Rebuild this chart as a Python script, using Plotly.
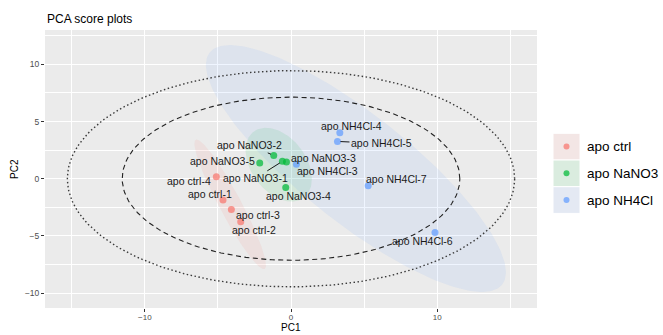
import numpy as np
import plotly.graph_objects as go

# ---------------- data ----------------
samples = ["apo ctrl-1", "apo ctrl-2", "apo ctrl-3", "apo ctrl-4",
           "apo NaNO3-1", "apo NaNO3-2", "apo NaNO3-3", "apo NaNO3-4", "apo NaNO3-5",
           "apo NH4Cl-3", "apo NH4Cl-4", "apo NH4Cl-5", "apo NH4Cl-6", "apo NH4Cl-7"]
groups = ["apo ctrl"] * 4 + ["apo NaNO3"] * 5 + ["apo NH4Cl"] * 5
pc1 = [-4.65, -3.44, -4.08, -5.11,
       -0.59, -1.18, -0.31, -0.36, -2.14,
       0.37, 3.34, 3.18, 9.85, 5.28]
pc2 = [-1.87, -3.75, -2.68, 0.17,
       1.52, 2.04, 1.47, -0.77, 1.38,
       1.26, 4.02, 3.26, -4.70, -0.62]

group_names = ["apo ctrl", "apo NaNO3", "apo NH4Cl"]
# confidence ellipse of each group: centre and two conjugate half-axes (PC1, PC2 units)
ell_center = [(-4.16, -2.24), (-0.84, 1.23), (4.44, 0.89)]
ell_axis_a = [(2.36, -5.65), (1.71, -2.89), (10.0, -10.15)]
ell_axis_b = [(-0.66, -0.45), (-1.49, -1.43), (-2.31, -3.67)]
# Hotelling T2 ellipses (semi-axes along PC1, PC2)
hotelling_axes = [(11.55, 7.13), (15.3, 9.45)]

x_tick_vals = [-10, 0, 10]
y_tick_vals = [-10, -5, 0, 5, 10]

# ---------------- styling ----------------
colors = {"apo ctrl": (248, 118, 109), "apo NaNO3": (0, 186, 56), "apo NH4Cl": (97, 156, 255)}
def rgba(c, a):
    return f"rgba({c[0]},{c[1]},{c[2]},{a})"

# label offsets in pixels (label centre relative to point) and whether a segment is drawn
label_offset = {
    "apo ctrl-1": (-13, -6, False), "apo ctrl-2": (13, 8, False), "apo ctrl-3": (27, 6, False),
    "apo ctrl-4": (-27, 4, False),
    "apo NaNO3-1": (-27, 17, True), "apo NaNO3-2": (-24, -10, True), "apo NaNO3-3": (37, -4, False),
    "apo NaNO3-4": (13, 8, False), "apo NaNO3-5": (-37, -2, False),
    "apo NH4Cl-3": (31, 7, False), "apo NH4Cl-4": (12, -7, False), "apo NH4Cl-5": (44, 2, True),
    "apo NH4Cl-6": (-12, 9, False), "apo NH4Cl-7": (28, -7, False),
}

W, H = 663, 335
ML, MR, MT, MB = 45, 126, 30, 27
PW, PH = W - ML - MR, H - MT - MB
def px2paper(px, py):
    return (px - ML) / PW, (H - MB - py) / PH

FONT = "Liberation Sans, Arial, Helvetica, sans-serif"

fig = go.Figure()
t = np.linspace(0, 2 * np.pi, 240)

# group ellipses
for g, c, a, b in zip(group_names, ell_center, ell_axis_a, ell_axis_b):
    ex = c[0] + a[0] * np.cos(t) + b[0] * np.sin(t)
    ey = c[1] + a[1] * np.cos(t) + b[1] * np.sin(t)
    fig.add_trace(go.Scatter(x=ex, y=ey, mode="lines", fill="toself",
                             fillcolor=rgba(colors[g], 0.1), line=dict(width=0),
                             hoverinfo="skip", showlegend=False))

# Hotelling ellipses
for (a, b), dash, col, lw in zip(hotelling_axes, ["5px,3.5px", "1.5px,2.5px"],
                                 ["#222222", "#3a3a3a"], [1.1, 1.4]):
    fig.add_trace(go.Scatter(x=a * np.cos(t), y=b * np.sin(t), mode="lines",
                             line=dict(color=col, width=lw, dash=dash),
                             hoverinfo="skip", showlegend=False))

# points
for g in group_names:
    idx = [i for i, gg in enumerate(groups) if gg == g]
    fig.add_trace(go.Scatter(x=[pc1[i] for i in idx], y=[pc2[i] for i in idx], mode="markers",
                             marker=dict(color=rgba(colors[g], 0.72), size=7, line=dict(width=0)),
                             name=g, showlegend=False))

annotations = []
for s, x, y in zip(samples, pc1, pc2):
    dx, dy, seg = label_offset[s]
    annotations.append(dict(x=x, y=y, xref="x", yref="y", text=s, showarrow=True,
                            ax=dx, ay=dy, arrowhead=0, arrowwidth=0.9, standoff=3,
                            arrowcolor="black" if seg else "rgba(0,0,0,0)",
                            font=dict(family=FONT, size=10.5, color="#1a1a1a")))

# title and axis titles
annotations.append(dict(x=0, y=1, xref="paper", yref="paper", yshift=11, text="PCA score plots",
                        showarrow=False, xanchor="left", yanchor="middle",
                        font=dict(family=FONT, size=12, color="black")))
annotations.append(dict(x=0.5, y=0, xref="paper", yref="paper", yshift=-19.5, text="PC1",
                        showarrow=False, xanchor="center", yanchor="middle",
                        font=dict(family=FONT, size=10, color="black")))
annotations.append(dict(x=0, y=0.5, xref="paper", yref="paper", xshift=-31, text="PC2",
                        showarrow=False, xanchor="center", yanchor="middle", textangle=-90,
                        font=dict(family=FONT, size=10, color="black")))

# custom legend
shapes = []
row_tops = [133.3, 160.0, 186.7]
for g, top in zip(group_names, row_tops):
    x0, y0 = px2paper(553, top + 26.7)
    x1, y1 = px2paper(580, top)
    c = colors[g]
    key_fill = tuple(int(round(242 * 0.9 + ci * 0.1)) for ci in c)
    shapes.append(dict(type="rect", xref="paper", yref="paper", x0=x0, x1=x1, y0=y0, y1=y1,
                       fillcolor=f"rgb{key_fill}", line=dict(color="white", width=1), layer="above"))
    cx0, cy0 = px2paper(563.5, top + 16.3)
    cx1, cy1 = px2paper(569.5, top + 10.3)
    shapes.append(dict(type="circle", xref="paper", yref="paper", x0=cx0, x1=cx1, y0=cy0, y1=cy1,
                       fillcolor=rgba(c, 0.72), line=dict(width=0), layer="above"))
    lx, ly = px2paper(585, top + 13.6)
    annotations.append(dict(x=lx, y=ly, xref="paper", yref="paper", text=g, showarrow=False,
                            xanchor="left", yanchor="middle",
                            font=dict(family=FONT, size=13.5, color="black")))

fig.update_layout(
    width=W, height=H, margin=dict(l=ML, r=MR, t=MT, b=MB, autoexpand=False),
    paper_bgcolor="white", plot_bgcolor="#EBEBEB",
    annotations=annotations, shapes=shapes, showlegend=False,
    xaxis=dict(range=[-16.83, 16.83], tickvals=x_tick_vals, showgrid=True, gridcolor="white",
               gridwidth=1.1, zeroline=False, ticks="outside", ticklen=3, tickcolor="#333333",
               ticklabelstandoff=-2,
               tickfont=dict(family=FONT, size=8, color="#4D4D4D"), showline=False,
               minor=dict(tickvals=[-15, -5, 5, 15], showgrid=True, gridcolor="white", gridwidth=0.55)),
    yaxis=dict(range=[-11.3, 13.0], tickvals=y_tick_vals, showgrid=True, gridcolor="white",
               gridwidth=1.1, zeroline=False, ticks="outside", ticklen=3, tickcolor="#333333",
               tickfont=dict(family=FONT, size=8.5, color="#4D4D4D"), showline=False,
               minor=dict(tickvals=[-7.5, -2.5, 2.5, 7.5, 12.5], showgrid=True, gridcolor="white", gridwidth=0.55)),
)

fig.write_html("out.html")
